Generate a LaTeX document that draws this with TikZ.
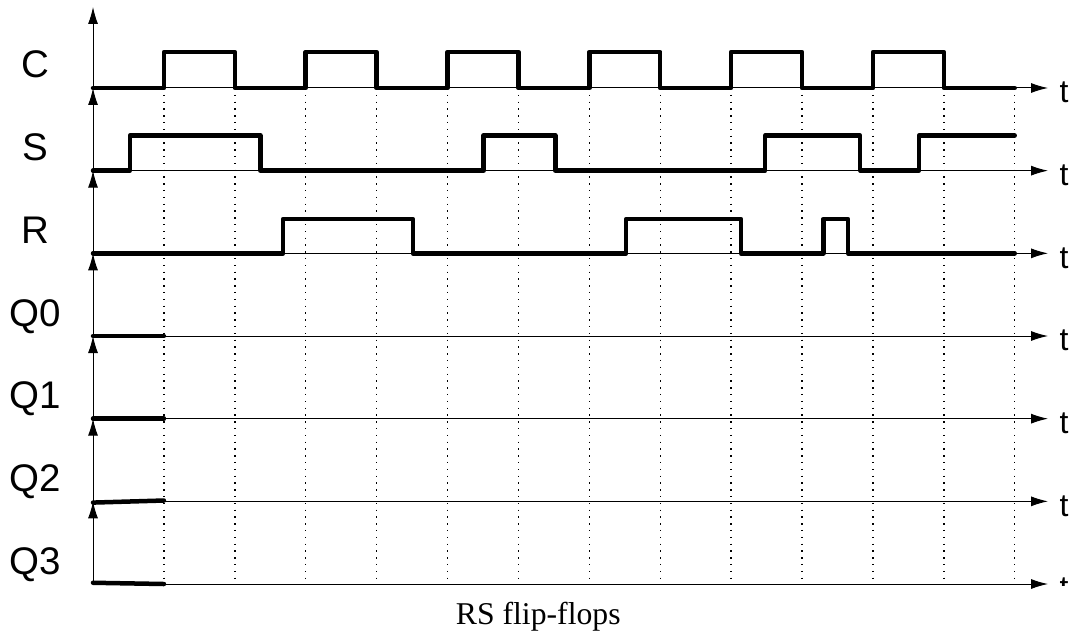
\documentclass[tikz,border=0pt]{standalone}
\usepackage{fontspec}
\setmainfont{Liberation Serif}
\setsansfont{Liberation Sans}
\usetikzlibrary{arrows.meta}
\begin{document}
\begin{tikzpicture}[x=70.9pt, y=82.67pt]
    \tikzstyle{sig}=[line width=4.5pt, line join=round, line cap=round]
    \tikzstyle{axisarrow}=[line width=1pt, -{Latex[length=17pt, width=10pt]}]
    \tikzstyle{gridline}=[line width=1.4pt, black,
                            dash pattern=on 1.4pt off 5.4pt]
    \tikzstyle{lbl}=[font=\sffamily\fontsize{38.5}{40}\selectfont,
                            anchor=base, inner sep=0pt]
    \tikzstyle{tlbl}=[font=\sffamily\fontsize{32}{34}\selectfont,
                            anchor=base west, inner sep=0pt]
    \useasboundingbox (-1.312,1.0645) rectangle (13.78,-6.641);

    % clock ticks
    \foreach \k in {1,...,13}
        \draw[gridline] (\k,0) -- (\k,-6);

    % axes and signal names
    \draw[axisarrow] (0,0) -- (0,0.98);
    \foreach \i in {1,...,6}
        \draw[axisarrow] (0,-\i) -- (0,{1-\i});
    \foreach \i/\n in {0/C,1/S,2/R,3/Q0,4/Q1,5/Q2,6/Q3} {
        \draw[axisarrow] (0,-\i) -- (13.47,-\i);
        \node[lbl] (lab\n) at (-0.81,{-\i+0.121}) {\n};
    }
    \foreach \i in {0,...,5}
        \node[tlbl] (t\i) at (13.63,{-\i-0.181}) {t};
    \begin{scope}
        \clip (13.5,-5.8) rectangle (13.78,-6.015);
        \node[tlbl] (t6) at (13.63,-6.181) {t};
    \end{scope}

    % signals
    \draw[sig] (0,0) \foreach \k in {1,3,...,11} {
        -- (\k,0) -- (\k,0.435) -- ({\k+1},0.435) -- ({\k+1},0) } -- (13,0);
    \draw[sig] (0,-1) -- (0.52,-1) |- (2.36,-0.575) |- (5.51,-1)
        |- (6.52,-0.575) |- (9.48,-1) |- (10.82,-0.575) |- (11.65,-1)
        |- (13,-0.575);
    \draw[sig] (0,-2) -- (2.68,-2) |- (4.51,-1.585) |- (7.52,-2)
        |- (9.14,-1.585) |- (10.30,-2) |- (10.65,-1.585) |- (13,-2);
    \draw[sig] (0,-3) -- (1,-3);
    \draw[sig] (0,-4) -- (1,-4);
    \draw[sig] (0,-5.015) -- (1,-4.99);
    \draw[sig] (0,-5.985) -- (1,-6);

    \node[font=\fontsize{31.7}{34}\selectfont, anchor=base] (caption)
        at (6.28,-6.484) {RS flip-flops};
\end{tikzpicture}
\end{document}
